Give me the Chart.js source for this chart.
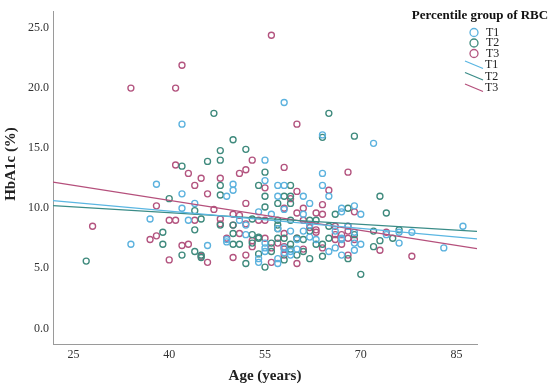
<!DOCTYPE html>
<html>
<head>
<meta charset="utf-8">
<script src="https://cdn.jsdelivr.net/npm/chart.js@4.4.1/dist/chart.umd.min.js"></script>
<style>
  html,body{margin:0;padding:0;background:#fff;}
  #wrap{width:550px;height:389px;}
</style>
</head>
<body>
<div id="wrap"><canvas id="c" width="550" height="389"></canvas></div>
<script>
// ---- data ----
const groupNames = ['T1', 'T2', 'T3'];
const legendTitle = 'Percentile group of RBC';
const xTitle = 'Age (years)';
const yTitle = 'HbA1c (%)';
const xTicks = [25, 40, 55, 70, 85];
const yTicks = [0, 5, 10, 15, 20, 25];

const t1Age = [42,58,64,72,38,42,44,42,37,43,34,46,55,64,55,50,57,58,64,50,49,57,61,65,62,54,56,58,61,67,67,69,70,51,62,68,66,69,59,52,60,67,49,52,57,61,62,67,69,63,65,66,67,60,59,59,58,58,57,57,54,54,49,55,55,55,74,76,78,86,70,76,69,83];
const t1Hba = [17.0,18.8,16.1,15.4,12.0,11.2,10.4,10.0,9.1,9.0,7.0,6.9,14.0,12.9,12.3,12.0,11.9,11.9,11.9,11.5,11.0,11.0,11.0,11.0,10.4,9.7,9.5,9.9,9.5,10.0,9.7,10.2,9.5,9.0,8.6,8.5,8.1,8.0,8.1,7.8,7.4,7.5,7.4,8.6,8.3,8.1,7.6,7.4,7.1,7.4,6.4,6.7,6.1,6.6,6.4,6.1,6.7,6.3,5.8,5.4,5.8,5.5,7.2,7.1,6.7,6.4,7.8,8.0,8.0,8.5,7.0,7.1,6.5,6.7];

const t2Age = [47,65,69,73,74,68,72,76,73,75,69,72,68,70,48,48,46,42,48,48,40,44,44,39,48,27,39,42,44,45,45,50,64,52,55,54,59,55,58,59,57,59,55,66,45,53,50,57,57,57,59,62,63,65,62,65,50,53,54,57,61,54,56,58,60,63,64,64,59,59,60,61,58,62,55,54,52,50,51,53,56];
const t2Hba = [17.9,17.9,16.0,11.0,9.6,10.0,8.1,8.2,7.3,7.5,7.8,6.8,5.8,4.5,14.8,14.0,13.9,13.5,11.9,11.1,10.8,9.8,8.2,8.0,8.6,5.6,7.0,6.1,6.4,6.1,5.9,15.7,15.9,14.9,13.0,11.9,11.9,11.0,11.0,11.0,10.4,10.4,10.1,9.5,9.1,9.1,8.6,9.0,8.6,8.3,9.0,9.0,9.0,8.5,8.1,7.5,7.9,7.8,7.5,7.5,7.4,7.6,7.1,7.5,7.5,7.0,7.0,6.0,7.0,6.6,6.1,6.4,5.7,5.8,5.1,6.2,5.4,7.0,7.0,7.1,6.4];

const t3Age = [42,34,41,56,60,68,69,68,74,67,69,67,73,78,68,41,43,45,48,44,46,38,47,48,40,41,44,28,38,37,42,43,45,40,46,53,58,51,52,55,65,59,60,52,64,58,60,61,63,64,50,51,52,48,54,55,61,63,66,68,58,60,51,66,68,50,53,55,57,63,62,66,64,61,58,58,58,60,56,52,50,53,49,56];
const t3Hba = [21.9,20.0,20.0,24.4,17.0,13.0,9.7,8.5,8.0,7.8,7.4,7.0,6.5,6.0,6.1,13.6,12.9,12.5,12.5,11.9,11.2,10.2,9.9,9.1,9.0,9.0,9.0,8.5,7.7,7.4,6.9,7.0,6.0,5.7,5.5,14.0,13.4,12.9,13.2,11.7,11.5,10.8,11.4,10.4,10.3,10.0,9.6,10.0,9.6,9.5,9.5,9.4,8.7,8.7,9.0,9.0,9.0,8.2,8.5,8.1,7.9,7.5,7.9,7.4,7.5,8.6,7.3,7.5,7.1,8.0,8.4,7.8,6.7,6.6,6.8,6.6,6.1,5.4,5.5,6.1,5.9,6.8,7.5,6.7];

// fitted lines: values at the axis ends
const fitAge = [21.8, 88.2];
const fitT1 = [10.63, 7.45];
const fitT2 = [10.22, 8.07];
const fitT3 = [12.18, 6.63];

// ---- styles ----
const pointColors = ['#5cb2de', '#3f8a7d', '#b3547f'];
const lineColors = ['#5ab6e2', '#3a8c88', '#b5507c'];
const serif = '"Liberation Serif", "DejaVu Serif", serif';

function pts(xs, ys){ return xs.map((x,i)=>({x:x, y:ys[i]})); }

const scatterSets = [[t1Age,t1Hba],[t2Age,t2Hba],[t3Age,t3Hba]].map((d,i)=>({
  type:'scatter',
  label: groupNames[i],
  data: pts(d[0], d[1]),
  pointRadius: 3,
  pointHoverRadius: 3,
  pointBorderWidth: 1.35,
  pointBorderColor: pointColors[i],
  pointBackgroundColor: 'rgba(0,0,0,0)',
  order: 2
}));
const lineSets = [fitT1, fitT2, fitT3].map((f,i)=>({
  type:'line',
  label: groupNames[i],
  data: pts(fitAge, f),
  borderColor: lineColors[i],
  borderWidth: 1.3,
  pointRadius: 0,
  fill: false,
  order: 1
}));

const legendPlugin = {
  id: 'customLegend',
  afterDraw(chart){
    const ctx = chart.ctx;
    ctx.save();
    // y axis title
    ctx.save();
    ctx.translate(11, 164);
    ctx.rotate(-Math.PI/2);
    ctx.textAlign = 'center';
    ctx.textBaseline = 'middle';
    ctx.fillStyle = '#222';
    ctx.font = 'bold 15px ' + serif;
    ctx.fillText(yTitle, 0, 0);
    ctx.restore();
    // legend
    ctx.fillStyle = '#111';
    ctx.textBaseline = 'middle';
    ctx.textAlign = 'center';
    ctx.font = 'bold 13px ' + serif;
    ctx.fillText(legendTitle, 480, 16);
    ctx.font = '12px ' + serif;
    ctx.textAlign = 'left';
    const ys1 = [32.5, 43, 53.5];
    const ys2 = [65, 76.5, 88];
    for (let i=0;i<3;i++){
      ctx.strokeStyle = pointColors[i];
      ctx.lineWidth = 1.3;
      ctx.beginPath(); ctx.arc(474, ys1[i], 4, 0, Math.PI*2); ctx.stroke();
      ctx.fillStyle = '#222';
      ctx.fillText(groupNames[i], 486, ys1[i]);
      ctx.strokeStyle = lineColors[i];
      ctx.beginPath(); ctx.moveTo(465, ys2[i]-4); ctx.lineTo(483, ys2[i]+3.5); ctx.stroke();
      ctx.fillText(groupNames[i], 485, ys2[i]);
    }
    ctx.restore();
  }
};

new Chart(document.getElementById('c'), {
  data: { datasets: [...lineSets, ...scatterSets] },
  options: {
    responsive: false,
    animation: false,
    layout: { padding: { left: 0, top: 5, right: 73, bottom: 0 } },
    plugins: { legend: { display: false }, tooltip: { enabled: false } },
    scales: {
      x: {
        type: 'linear',
        min: 21.8, max: 88.2,
        afterFit(s){ s.height = 45; },
        afterBuildTicks(s){ s.ticks = xTicks.map(v=>({value:v})); },
        grid: { display: false, drawTicks: false },
        border: { display: true, color: '#9a9a9a', width: 1 },
        ticks: { padding: 4, color: '#333', font: { family: serif, size: 12 }, callback: v => String(v), maxRotation: 0 },
        title: { display: true, text: xTitle, color: '#222', font: { family: serif, size: 15, weight: 'bold' }, padding: { top: 0, bottom: 4 } }
      },
      y: {
        type: 'linear',
        min: -1.3, max: 26.4,
        afterFit(s){ s.width = 53; },
        afterBuildTicks(s){ s.ticks = yTicks.map(v=>({value:v})); },
        grid: { display: false, drawTicks: false },
        border: { display: true, color: '#9a9a9a', width: 1 },
        ticks: { padding: 4, color: '#333', font: { family: serif, size: 12 }, callback: v => Number(v).toFixed(1) },
        title: { display: false }
      }
    }
  },
  plugins: [legendPlugin]
});
</script>
</body>
</html>
